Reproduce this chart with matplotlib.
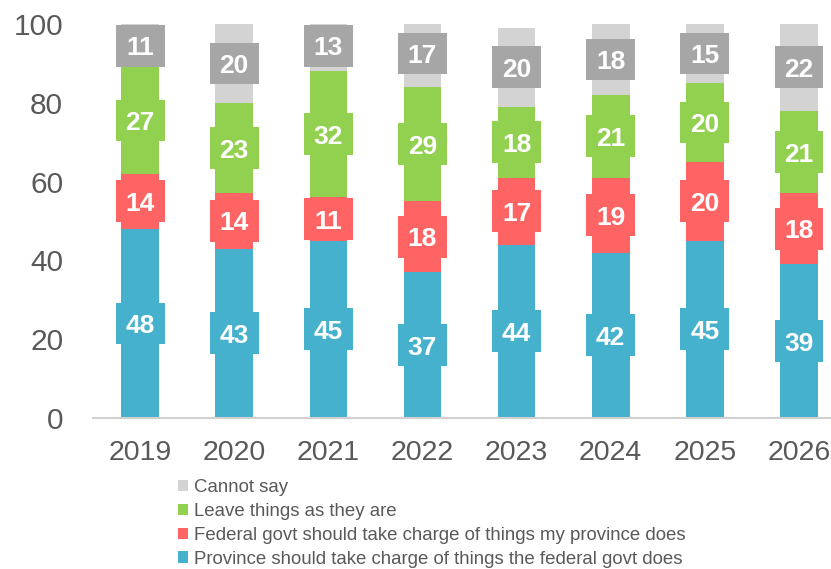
import matplotlib
matplotlib.use("Agg")
import matplotlib.pyplot as plt
from matplotlib.patches import Patch, Rectangle
import numpy as np

years = ["2019", "2020", "2021", "2022", "2023", "2024", "2025", "2026"]
province = [48, 43, 45, 37, 44, 42, 45, 39]
federal = [14, 14, 11, 18, 17, 19, 20, 18]
leave = [27, 23, 32, 29, 18, 21, 20, 21]
cannot = [11, 20, 13, 17, 20, 18, 15, 22]

series = [
    ("Province should take charge of things the federal govt does", province, "#45B1CC", "#45B1CC"),
    ("Federal govt should take charge of things my province does", federal, "#FF6464", "#FF6464"),
    ("Leave things as they are", leave, "#92D050", "#92D050"),
    ("Cannot say", cannot, "#D3D3D3", "#A6A6A6"),
]

plt.rcParams['font.family'] = ['Liberation Sans', 'DejaVu Sans']
fig = plt.figure(figsize=(8.31, 5.69), dpi=100)
ax = fig.add_axes([93/831, (569-418)/569, 1 - 93/831, (418-24)/569])

x = np.arange(len(years))
bottom = np.zeros(len(years))
handles = []
box_w = 0.52
box_h = 10.6
for name, vals, col, lblcol in series:
    vals = np.array(vals, dtype=float)
    ax.bar(x, vals, width=0.4, bottom=bottom, color=col, zorder=2)
    for xi, b, v in zip(x, bottom, vals):
        yc = b + v / 2
        ax.add_patch(Rectangle((xi - box_w / 2, yc - box_h / 2), box_w, box_h,
                               facecolor=lblcol, edgecolor="none", zorder=3))
        ax.text(xi, yc, f"{int(v)}", ha="center", va="center_baseline", color="white",
                fontsize=19, fontweight="bold", zorder=4)
    bottom += vals
    handles.append(Patch(facecolor=col, label=name))

ax.set_xlim(-0.5, 7.34)
ax.set_ylim(0, 100)
ax.set_yticks([0, 20, 40, 60, 80, 100])
ax.set_xticks(x)
ax.set_xticklabels(years)
ax.tick_params(axis="both", length=0, labelsize=21.5, colors="#595959")
ax.tick_params(axis="x", labelsize=20.5, pad=16)
ax.tick_params(axis="y", pad=21.5)
for s in ["top", "right", "left"]:
    ax.spines[s].set_visible(False)
ax.spines["bottom"].set_color("#D0D0D0")
ax.spines["bottom"].set_linewidth(1.5)

leg = fig.legend(handles=handles[::-1], loc="upper left", bbox_to_anchor=(178/831, 1 - 479/569),
                 frameon=False, fontsize=13.4, handlelength=0.55, handleheight=0.55,
                 handletextpad=0.3, labelspacing=0.37, borderpad=0, borderaxespad=0)
for t in leg.get_texts():
    t.set_color("#595959")

fig.savefig("out.png", dpi=100)
